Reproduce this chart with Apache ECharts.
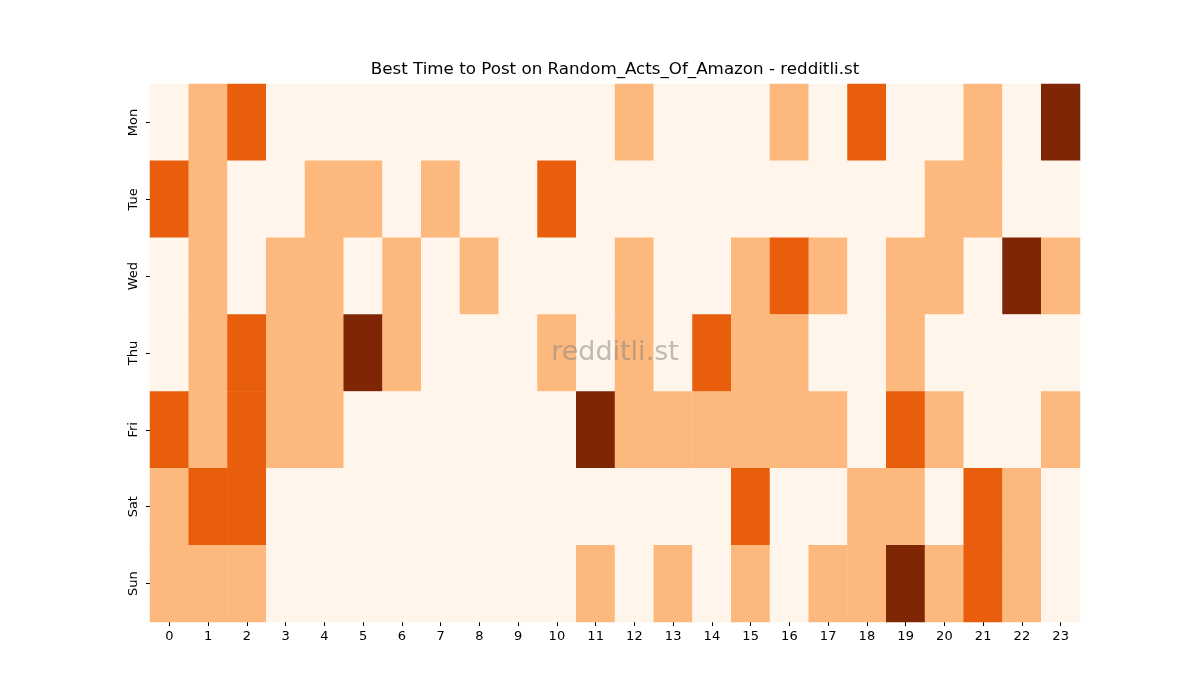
<!DOCTYPE html>
<html>
<head>
<meta charset="utf-8">
<script src="https://cdn.jsdelivr.net/npm/echarts@6/dist/echarts.min.js"></script>
<style>html,body{margin:0;padding:0;background:#fff;}#c{width:1200px;height:700px;}</style>
</head>
<body>
<div id="c"></div>
<script>
const hours = ['0','1','2','3','4','5','6','7','8','9','10','11','12','13','14','15','16','17','18','19','20','21','22','23'];
const days = ['Mon','Tue','Wed','Thu','Fri','Sat','Sun'];
const mon = [0,1,2,0,0,0,0,0,0,0,0,0,1,0,0,0,1,0,2,0,0,1,0,3];
const tue = [2,1,0,0,1,1,0,1,0,0,2,0,0,0,0,0,0,0,0,0,1,1,0,0];
const wed = [0,1,0,1,1,0,1,0,1,0,0,0,1,0,0,1,2,1,0,1,1,0,3,1];
const thu = [0,1,2,1,1,3,1,0,0,0,1,0,1,0,2,1,1,0,0,1,0,0,0,0];
const fri = [2,1,2,1,1,0,0,0,0,0,0,3,1,1,1,1,1,1,0,2,1,0,0,1];
const sat = [1,2,2,0,0,0,0,0,0,0,0,0,0,0,0,2,0,0,1,1,0,2,1,0];
const sun = [1,1,1,0,0,0,0,0,0,0,0,1,0,1,0,1,0,1,1,3,1,2,1,0];
const rows = [mon, tue, wed, thu, fri, sat, sun];
const titleText = 'Best Time to Post on Random_Acts_Of_Amazon - redditli.st';
const watermark = 'redditli.st';

const data = [];
rows.forEach((r, yi) => r.forEach((v, xi) => data.push([xi, yi, v])));

const chart = echarts.init(document.getElementById('c'));
const font = 'DejaVu Sans';
chart.setOption({
  animation: false,
  backgroundColor: '#ffffff',
  grid: { left: 150, right: 120, top: 84, bottom: 78 },
  xAxis: {
    type: 'category', data: hours,
    axisLine: { show: false },
    axisTick: { show: true, alignWithLabel: true, length: 4, lineStyle: { color: '#000' } },
    axisLabel: { fontFamily: font, fontSize: 13, color: '#000', margin: 8, interval: 0 },
    splitLine: { show: false }
  },
  yAxis: {
    type: 'category', data: days, inverse: true,
    axisLine: { show: false },
    axisTick: { show: true, alignWithLabel: true, length: 4, lineStyle: { color: '#000' } },
    axisLabel: { fontFamily: font, fontSize: 13, color: '#000', rotate: 90, margin: 10 },
    splitLine: { show: false }
  },
  visualMap: {
    show: false, type: 'piecewise', dimension: 2,
    pieces: [
      { value: 0, color: '#fff5eb' },
      { value: 1, color: '#fdb97d' },
      { value: 2, color: '#e95e0d' },
      { value: 3, color: '#7f2704' }
    ]
  },
  series: [{
    type: 'heatmap', data: data,
    itemStyle: { borderWidth: 0 },
    emphasis: { disabled: true }
  }],
  graphic: [{
    type: 'text', x: 615, y: 70, z: 100,
    style: {
      text: titleText,
      fontFamily: font, fontSize: 16.7, fill: '#000',
      align: 'center', verticalAlign: 'middle'
    }
  }, {
    type: 'text', x: 615, y: 353, z: 100,
    style: {
      text: watermark,
      fontFamily: font, fontSize: 27, fill: 'rgba(128,128,128,0.5)',
      align: 'center', verticalAlign: 'middle'
    }
  }]
});
</script>
</body>
</html>
